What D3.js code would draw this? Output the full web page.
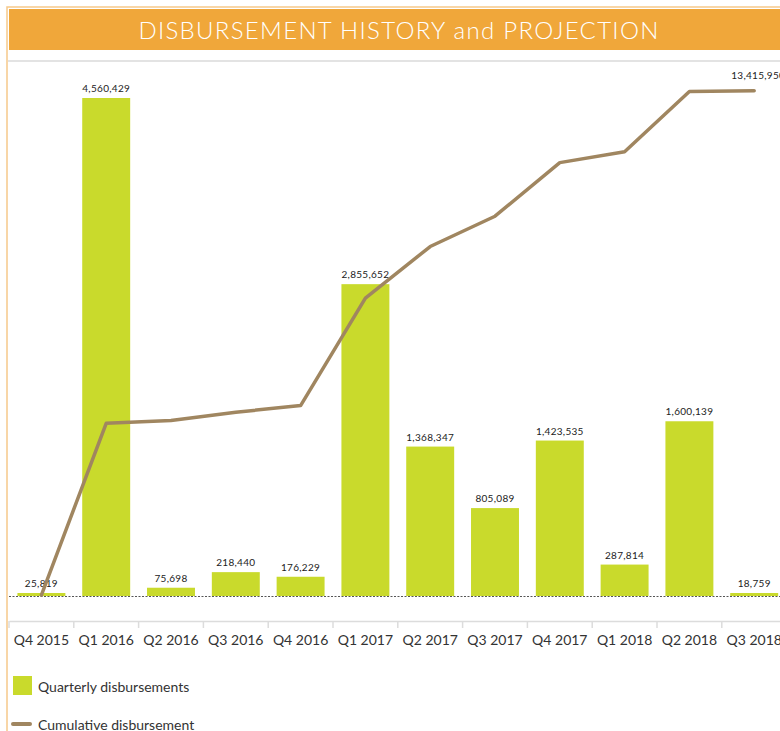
<!DOCTYPE html>
<html>
<head>
<meta charset="utf-8">
<script src="https://cdn.jsdelivr.net/npm/d3@7"></script>
<style>
  body { margin: 0; background: #fff; }
  svg { display: block; font-family: Lato, "Open Sans", sans-serif; }
</style>
</head>
<body>
<svg width="780" height="731"></svg>
<script>
const quarters = ["Q4 2015", "Q1 2016", "Q2 2016", "Q3 2016", "Q4 2016", "Q1 2017",
                  "Q2 2017", "Q3 2017", "Q4 2017", "Q1 2018", "Q2 2018", "Q3 2018"];
const quarterly = [25819, 4560429, 75698, 218440, 176229, 2855652,
                   1368347, 805089, 1423535, 287814, 1600139, 18759];
const cumulative = [25819, 4586248, 4661946, 4880386, 5056615, 7912267,
                    9280614, 10085703, 11509238, 11797052, 13397191, 13415950];

const svg = d3.select("svg");
const fmt = d3.format(",");
const barColor = "#c9da2c", lineColor = "#a08660";
const baseY = 596, topY = 50;

// frame + title bar
svg.append("rect").attr("x", 7).attr("y", 7).attr("width", 800).attr("height", 760)
   .attr("fill", "none").attr("stroke", "#f6c98a").attr("stroke-width", 1.5);
svg.append("rect").attr("x", 9).attr("y", 9).attr("width", 780).attr("height", 41)
   .attr("fill", "#f0a73a");
svg.append("text").attr("x", 399).attr("y", 39).attr("text-anchor", "middle")
   .attr("fill", "#fff").style("font-size", "24px").style("font-weight", 300)
   .style("letter-spacing", "1.3px")
   .text("DISBURSEMENT HISTORY and PROJECTION");
svg.append("line").attr("x1", 8).attr("x2", 780).attr("y1", 61).attr("y2", 61)
   .attr("stroke", "#e3e3e3").attr("stroke-width", 2);

const x = d3.scaleBand().domain(quarters).range([9, 9 + 12 * 64.8]).paddingInner(0.26).paddingOuter(0.13);
const xc = d => x(d) + x.bandwidth() / 2;
const yBar = d3.scaleLinear().domain([0, 5e6]).range([baseY, topY]);
const yCum = d3.scaleLinear().domain([0, 14.5e6]).range([baseY, topY]);

// bars
svg.append("g").selectAll("rect").data(quarters).join("rect")
   .attr("x", d => x(d)).attr("width", x.bandwidth())
   .attr("y", (d, i) => Math.min(yBar(quarterly[i]), baseY - 3))
   .attr("height", (d, i) => baseY - Math.min(yBar(quarterly[i]), baseY - 3))
   .attr("fill", barColor);

svg.append("g").selectAll("text").data(quarters).join("text")
   .attr("x", xc).attr("y", (d, i) => Math.min(yBar(quarterly[i]), baseY - 3) - 6)
   .attr("text-anchor", "middle").attr("fill", "#222").style("font-size", "10px")
   .style("letter-spacing", "0.3px")
   .text((d, i) => fmt(quarterly[i]));

// dotted baseline
svg.append("line").attr("x1", 9).attr("x2", 780).attr("y1", baseY + 0.5).attr("y2", baseY + 0.5)
   .attr("stroke", "#555").attr("stroke-dasharray", "2,1.5").attr("stroke-width", 1);

// cumulative line
const line = d3.line().x((d, i) => xc(quarters[i])).y(d => yCum(d));
svg.append("path").datum(cumulative).attr("d", line)
   .attr("fill", "none").attr("stroke", lineColor).attr("stroke-width", 3.5)
   .attr("stroke-linecap", "round").attr("stroke-linejoin", "round");
svg.append("text").attr("x", xc(quarters[11]) + 4).attr("y", yCum(cumulative[11]) - 12)
   .attr("text-anchor", "middle").attr("fill", "#222").style("font-size", "10px")
   .style("letter-spacing", "0.3px")
   .text(fmt(cumulative[11]));

// x axis
const axis = svg.append("g").attr("transform", "translate(0,621)")
   .call(d3.axisBottom(x).tickSize(0).tickPadding(14));
axis.select(".domain").attr("stroke", "#dcdcdc").attr("stroke-width", 1.5);
axis.selectAll("text").attr("fill", "#333").style("font-size", "14px")
   .style("font-family", "Lato, 'Open Sans', sans-serif");
svg.append("g").selectAll("line").data(quarters).join("line")
   .attr("x1", d => x(d) - x.step() * x.paddingInner() / 2).attr("x2", d => x(d) - x.step() * x.paddingInner() / 2)
   .attr("y1", 621).attr("y2", 628).attr("stroke", "#dcdcdc").attr("stroke-width", 1.5);

// legend
svg.append("rect").attr("x", 13).attr("y", 676).attr("width", 19).attr("height", 19).attr("fill", barColor);
svg.append("text").attr("x", 38).attr("y", 692).attr("fill", "#333").style("font-size", "14px")
   .text("Quarterly disbursements");
svg.append("line").attr("x1", 13).attr("x2", 30).attr("y1", 724).attr("y2", 724)
   .attr("stroke", lineColor).attr("stroke-width", 4).attr("stroke-linecap", "round");
svg.append("text").attr("x", 38).attr("y", 730).attr("fill", "#333").style("font-size", "14px")
   .text("Cumulative disbursement");
</script>
</body>
</html>
